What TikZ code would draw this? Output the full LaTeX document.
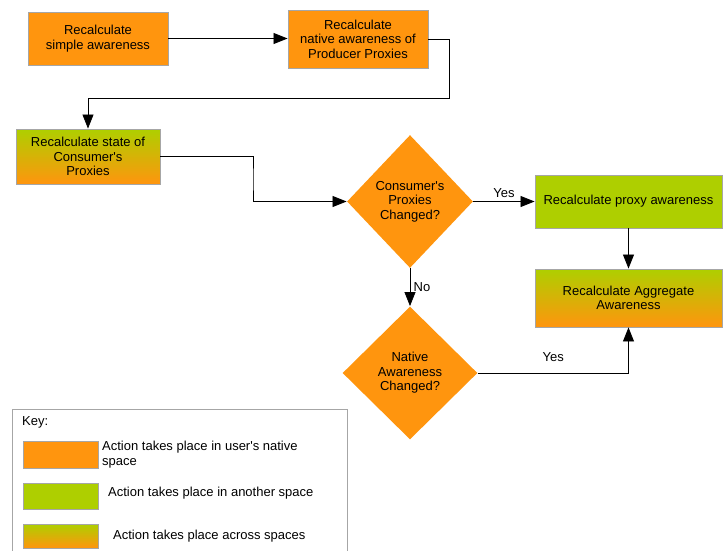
\documentclass[tikz,border=0pt]{standalone}
\usepackage{fontspec}
\setmainfont{Liberation Sans}
\usetikzlibrary{shapes.geometric,arrows.meta}
\definecolor{nativeorange}{HTML}{FF950E}
\definecolor{othergreen}{HTML}{AECF00}
\definecolor{edgegray}{HTML}{A6A6A6}
\tikzset{
	actbox/.style={draw=edgegray,line width=0.9pt,fill=nativeorange,align=center,inner sep=0pt,font=\fontsize{13}{14.5}\selectfont},
	otherbox/.style={actbox,fill=othergreen},
	acrossbox/.style={actbox,top color=othergreen,bottom color=nativeorange},
	decide/.style={actbox,diamond,draw=none},
	flow/.style={line width=0.8pt,-{Triangle[length=14pt,width=11pt]}},
	flowlabel/.style={font=\fontsize{13}{14}\selectfont},
	keytext/.style={anchor=west,align=left,inner sep=0pt,font=\fontsize{13}{14.5}\selectfont}
}
\begin{document}
\begin{tikzpicture}[x=1pt,y=-1pt]
		\useasboundingbox (0,0) rectangle (724,550);
		\node[actbox,minimum width=140pt,minimum height=53pt] (simple) at (98,38.5) {Recalculate\\simple awareness};
		\node[actbox,minimum width=140pt,minimum height=58pt] (native) at (358,39) {Recalculate\\native awareness of\\Producer Proxies};
		\node[acrossbox,minimum width=144pt,minimum height=55pt] (consumer) at (88,156.5) {Recalculate state of\\Consumer\textquotesingle s\\Proxies};
		\node[decide,minimum width=126pt,minimum height=133pt] (changed) at (410,201.5) {Consumer\textquotesingle s\\Proxies\\Changed?};
		\node[otherbox,minimum width=187pt,minimum height=53pt] (proxy) at (628.5,201.5) {Recalculate proxy awareness};
		\node[acrossbox,minimum width=187pt,minimum height=58pt] (aggregate) at (628.5,298) {Recalculate Aggregate\\Awareness};
		\node[decide,minimum width=135pt,minimum height=133pt] (nativechg) at (410,373) {Native\\Awareness\\Changed?};
		\coordinate (bendA) at (449,98);
		\coordinate (bendB) at (253,180);
		\draw[flow] (simple.east) -- (simple.east -| native.west);
		\draw[flow] (native.east) -| (bendA) -| (consumer.north);
		\draw[flow] (consumer.east) -| (bendB) |- (changed.west);
		\draw[flow] (changed.east) -- node[above,flowlabel]{Yes} (proxy.west);
		\draw[flow] (proxy.south) -- (aggregate.north);
		\draw[flow] (changed.south) -- node[right,flowlabel]{No} (nativechg.north);
		\draw[flow] (nativechg.east) -| node[pos=0.25,above=8pt,flowlabel]{Yes} (aggregate.south);
		% key
		\draw[edgegray,line width=0.9pt] (12,409) rectangle (347,560);
		\node[keytext] (keytitle) at (22,422) {Key:};
		\node[actbox,minimum width=75pt,minimum height=27pt] (keynative) at (60.5,454.5) {};
		\node[otherbox,minimum width=75pt,minimum height=26pt] (keyother) at (60.5,496) {};
		\node[acrossbox,minimum width=75pt,minimum height=24pt] (keyacross) at (60.5,536) {};
		\node[keytext] (keynativetext) at (102,454.5) {Action takes place in user\textquotesingle s native\\space};
		\node[keytext] (keyothertext) at (108,493) {Action takes place in another space};
		\node[keytext] (keyacrosstext) at (113,536) {Action takes place across spaces};
\end{tikzpicture}
\end{document}
